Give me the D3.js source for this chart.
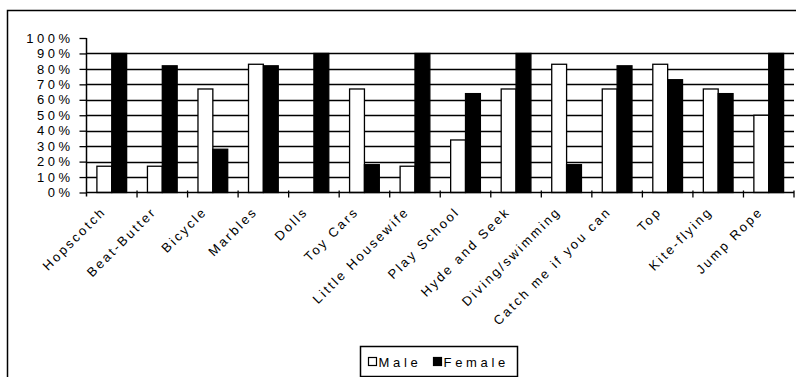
<!DOCTYPE html>
<html><head><meta charset="utf-8"><title>Games by gender</title>
<style>
    body { margin: 0; background: #fff; }
    svg text { font-family: 'Liberation Sans', Arial, sans-serif; font-size: 13px; fill: #000; }
</style>
<script src="https://cdnjs.cloudflare.com/ajax/libs/d3/7.8.5/d3.min.js"></script>
</head>
<body>
<svg id="chart" width="796" height="377"></svg>
<script>
// values (percent)
const games = ["Hopscotch", "Beat-Butter", "Bicycle", "Marbles", "Dolls", "Toy Cars",
    "Little Housewife", "Play School", "Hyde and Seek", "Diving/swimming",
    "Catch me if you can", "Top", "Kite-flying", "Jump Rope"];
const male   = [17, 17, 67, 83, 0, 67, 17, 34, 67, 83, 67, 83, 67, 50];
const female = [90, 82, 28, 82, 90, 18, 90, 64, 90, 18, 82, 73, 64, 90];
const series = ["Male", "Female"];
const yTicks = [0, 10, 20, 30, 40, 50, 60, 70, 80, 90, 100];

const svg = d3.select("#chart");

// outer chart frame (runs past right/bottom edge)
svg.append("rect")
    .attr("x", 7.5).attr("y", 10.5)
    .attr("width", 820).attr("height", 400)
    .attr("fill", "none").attr("stroke", "#000").attr("stroke-width", 1.5);

const plotL = 86.5, plotR = 794, plotT = 38, plotB = 192.5;

const x = d3.scaleBand().domain(games).range([plotL, plotR]).padding(0);
const x1 = d3.scaleBand().domain(series).range([0, x.bandwidth()]).paddingInner(0).paddingOuter(0.7);
const y = d3.scaleLinear().domain([0, 100]).range([plotB, plotT]);

// gridlines
svg.append("g")
    .selectAll("line")
    .data(yTicks.filter(t => t > 0 && t < 100))
    .enter().append("line")
    .attr("x1", plotL).attr("x2", plotR)
    .attr("y1", d => Math.round(y(d)) + 0.5).attr("y2", d => Math.round(y(d)) + 0.5)
    .attr("stroke", "#000").attr("stroke-width", 1.3);

// bars
const rows = games.map((g, i) => ({ game: g, Male: male[i], Female: female[i] }));
const grp = svg.append("g")
    .selectAll("g")
    .data(rows)
    .enter().append("g")
    .attr("transform", d => `translate(${x(d.game)},0)`);

grp.selectAll("rect")
    .data(d => series.map(s => ({ s, v: d[s] })).filter(e => e.v > 0))
    .enter().append("rect")
    .attr("x", d => x1(d.s))
    .attr("y", d => y(d.v))
    .attr("width", x1.bandwidth())
    .attr("height", d => plotB - y(d.v))
    .attr("fill", d => d.s === "Male" ? "#fff" : "#000")
    .attr("stroke", "#000").attr("stroke-width", 1.3);

// y axis
const yAxis = d3.axisLeft(y).tickValues(yTicks).tickSize(7).tickPadding(6)
    .tickFormat(d => d + "%");
const ya = svg.append("g").attr("transform", `translate(${plotL},0)`).call(yAxis);
ya.select(".domain").attr("stroke-width", 1.5).attr("d", `M0,${plotT}V${plotB + 4}`);
ya.selectAll(".tick line").attr("stroke-width", 1.3);
ya.selectAll("text").attr("font-size", 13).attr("font-family", "'Liberation Sans', Arial, sans-serif")
    .style("letter-spacing", "3.5px");

// x axis line and ticks between categories
svg.append("line")
    .attr("x1", plotL).attr("x2", plotR)
    .attr("y1", plotB).attr("y2", plotB)
    .attr("stroke", "#000").attr("stroke-width", 1.5);
svg.append("g")
    .selectAll("line")
    .data(games)
    .enter().append("line")
    .attr("x1", d => x(d) + x.bandwidth()).attr("x2", d => x(d) + x.bandwidth())
    .attr("y1", plotB - 2).attr("y2", plotB + 5)
    .attr("stroke", "#000").attr("stroke-width", 1.3);

// rotated category labels
svg.append("g")
    .selectAll("text")
    .data(games)
    .enter().append("text")
    .attr("transform", d => `translate(${x(d) + x.bandwidth() / 2 - 5},${plotB + 20}) rotate(-45)`)
    .attr("text-anchor", "end")
    .style("letter-spacing", "2.4px")
    .text(d => d);

// legend
const lg = svg.append("g").attr("transform", "translate(360.5,346.5)");
lg.append("rect").attr("width", 157).attr("height", 30)
    .attr("fill", "#fff").attr("stroke", "#000").attr("stroke-width", 1.5);
const items = [{ s: "Male", dx: 8 }, { s: "Female", dx: 73 }];
items.forEach(it => {
    lg.append("rect").attr("x", it.dx).attr("y", 11).attr("width", 8).attr("height", 8)
        .attr("fill", it.s === "Male" ? "#fff" : "#000").attr("stroke", "#000").attr("stroke-width", 1.2);
    lg.append("text").attr("x", it.dx + 10).attr("y", 20)
        .style("letter-spacing", "3.7px")
        .text(it.s);
});
</script>
</body>
</html>
